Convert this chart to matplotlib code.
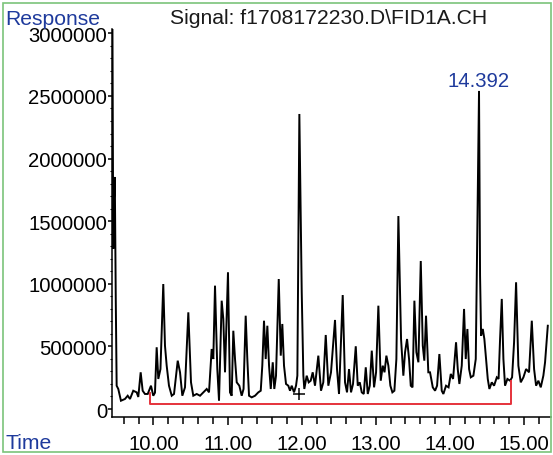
import numpy as np
import matplotlib
matplotlib.use("Agg")
import matplotlib.pyplot as plt
from matplotlib.ticker import MultipleLocator, FixedLocator, FixedFormatter
from matplotlib.patches import Rectangle

plt.rcParams['font.family'] = ['Liberation Sans', 'DejaVu Sans']

# ---------------- data ----------------
time_min = [
    9.446, 9.457, 9.467, 9.478, 9.491, 9.503, 9.525, 9.561, 9.615, 9.652,
    9.683, 9.727, 9.773, 9.795, 9.827, 9.854, 9.885, 9.922, 9.966, 9.997,
    10.020, 10.043, 10.065, 10.094, 10.132, 10.155, 10.178, 10.209, 10.246, 10.277,
    10.300, 10.327, 10.358, 10.389, 10.425, 10.470, 10.506, 10.537, 10.583, 10.628,
    10.672, 10.718, 10.749, 10.785, 10.807, 10.830, 10.861, 10.884, 10.920, 10.942,
    10.965, 11.005, 11.032, 11.055, 11.077, 11.100, 11.123, 11.158, 11.190, 11.215,
    11.244, 11.266, 11.289, 11.325, 11.370, 11.414, 11.447, 11.468, 11.491, 11.514,
    11.536, 11.559, 11.582, 11.609, 11.630, 11.653, 11.690, 11.717, 11.738, 11.761,
    11.788, 11.819, 11.842, 11.865, 11.896, 11.923, 11.941, 11.968, 12.000, 12.022,
    12.035, 12.067, 12.094, 12.121, 12.148, 12.179, 12.224, 12.260, 12.291, 12.324,
    12.359, 12.395, 12.449, 12.476, 12.503, 12.553, 12.584, 12.611, 12.638, 12.665,
    12.692, 12.729, 12.756, 12.783, 12.810, 12.837, 12.864, 12.891, 12.918, 12.945,
    12.976, 13.003, 13.034, 13.066, 13.093, 13.117, 13.142, 13.169, 13.196, 13.223,
    13.250, 13.277, 13.304, 13.340, 13.371, 13.394, 13.421, 13.448, 13.471, 13.495,
    13.520, 13.547, 13.574, 13.606, 13.633, 13.654, 13.677, 13.708, 13.731, 13.768,
    13.799, 13.826, 13.857, 13.889, 13.911, 13.947, 13.981, 14.011, 14.042, 14.082,
    14.105, 14.127, 14.159, 14.190, 14.213, 14.235, 14.258, 14.281, 14.316, 14.348,
    14.392, 14.406, 14.420, 14.443, 14.464, 14.487, 14.510, 14.532, 14.564, 14.595,
    14.632, 14.656, 14.676, 14.699, 14.721, 14.743, 14.775, 14.811, 14.838, 14.865,
    14.892, 14.923, 14.955, 14.991, 15.027, 15.067, 15.104, 15.135, 15.162, 15.193,
    15.225, 15.260, 15.283, 15.320,
]
response = [
    3100000, 1280000, 1677000, 1853000, 879000, 186000, 160000, 66000, 80000, 106000,
    80000, 146000, 133000, 96000, 293000, 146000, 120000, 120000, 186000, 106000,
    130000, 493000, 240000, 319000, 998000, 506000, 346000, 186000, 106000, 120000,
    240000, 386000, 293000, 106000, 173000, 772000, 213000, 106000, 120000, 106000,
    133000, 160000, 133000, 479000, 399000, 985000, 319000, 66000, 865000, 719000,
    293000, 1092000, 133000, 106000, 625000, 399000, 213000, 186000, 106000, 160000,
    745000, 399000, 106000, 93000, 106000, 133000, 146000, 346000, 705000, 399000,
    665000, 346000, 160000, 373000, 160000, 266000, 1038000, 426000, 679000, 346000,
    200000, 186000, 146000, 186000, 133000, 186000, 266000, 2356000, 934000, 266000,
    160000, 266000, 213000, 226000, 293000, 186000, 426000, 146000, 213000, 591000,
    186000, 293000, 711000, 319000, 120000, 910000, 213000, 133000, 319000, 133000,
    200000, 501000, 186000, 213000, 133000, 120000, 333000, 120000, 186000, 466000,
    173000, 293000, 825000, 226000, 346000, 293000, 426000, 346000, 186000, 133000,
    146000, 399000, 1541000, 559000, 266000, 453000, 559000, 399000, 186000, 173000,
    865000, 453000, 373000, 1182000, 506000, 386000, 745000, 293000, 293000, 173000,
    146000, 186000, 439000, 146000, 120000, 186000, 173000, 280000, 240000, 533000,
    319000, 200000, 346000, 799000, 399000, 639000, 319000, 253000, 266000, 399000,
    2540000, 1065000, 585000, 639000, 559000, 399000, 240000, 160000, 213000, 186000,
    253000, 240000, 559000, 879000, 399000, 186000, 240000, 226000, 253000, 533000,
    1012000, 346000, 213000, 253000, 319000, 293000, 705000, 319000, 186000, 226000,
    173000, 266000, 373000, 665000,
]

baseline_time = [9.953, 9.953, 14.825, 14.825]
baseline_resp = [128000, 36000, 36000, 226000]

peak_label = "14.392"
peak_time = 14.392
peak_resp = 2540000

marker_time = 11.96
marker_resp = 120000

xtick_values = [10, 11, 12, 13, 14, 15]
xtick_labels = ["10.00", "11.00", "12.00", "13.00", "14.00", "15.00"]
ytick_values = [0, 500000, 1000000, 1500000, 2000000, 2500000, 3000000]
ytick_labels = ["0", "500000", "1000000", "1500000", "2000000", "2500000", "3000000"]

title_text = "Signal: f1708172230.D\\FID1A.CH"
blue = "#1e3a9c"

# ---------------- figure ----------------
fig = plt.figure(figsize=(5.53, 4.56), dpi=100)
fig.patch.set_facecolor("white")
ax = fig.add_axes([0.2025, 0.0833, 0.794, 0.851])

ax.plot(time_min, response, color="black", lw=1.4, solid_joinstyle="miter")
ax.plot(baseline_time, baseline_resp, color="#e5323b", lw=1.4)
ax.plot(marker_time, marker_resp, marker="+", color="black", ms=9, mew=1.1)

ax.annotate(peak_label, xy=(peak_time, peak_resp), xytext=(0, 3.5),
            textcoords="offset points", ha="center", va="baseline",
            color=blue, fontsize=14.6)

ax.set_xlim(9.44, 15.364)
ax.set_ylim(-64000, 3035000)

for s in ["top", "right"]:
    ax.spines[s].set_visible(False)
for s in ["left", "bottom"]:
    ax.spines[s].set_linewidth(1.1)
    ax.spines[s].set_color("black")

ax.xaxis.set_major_locator(FixedLocator(xtick_values))
ax.xaxis.set_major_formatter(FixedFormatter(xtick_labels))
ax.xaxis.set_minor_locator(MultipleLocator(0.2))
ax.yaxis.set_major_locator(FixedLocator(ytick_values))
ax.yaxis.set_major_formatter(FixedFormatter(ytick_labels))
ax.yaxis.set_minor_locator(MultipleLocator(100000))

ax.tick_params(axis="x", which="major", direction="out", length=6, width=1.1,
               labelsize=14.6, pad=6)
ax.tick_params(axis="x", which="minor", direction="out", length=5, width=1.1)
ax.tick_params(axis="y", which="major", direction="out", length=3, width=1.1,
               labelsize=14.6, pad=0.5)
ax.tick_params(axis="y", which="minor", direction="out", length=1.5, width=0.8)

fig.text(329 / 553, 1 - 18 / 456, title_text, ha="center", va="center",
         fontsize=15.2, color="#1a1a1a")
fig.text(5 / 553, 1 - 25 / 456, "Response", ha="left", va="baseline",
         fontsize=15.2, color=blue)
fig.text(5 / 553, 7 / 456, "Time", ha="left", va="baseline",
         fontsize=15.2, color=blue)

fig.patches.append(Rectangle((3 / 553, 3 / 456), 548 / 553, 449 / 456,
                             transform=fig.transFigure, fill=False,
                             edgecolor="#7cc47a", lw=1.2))

fig.savefig("out.png", dpi=100)
